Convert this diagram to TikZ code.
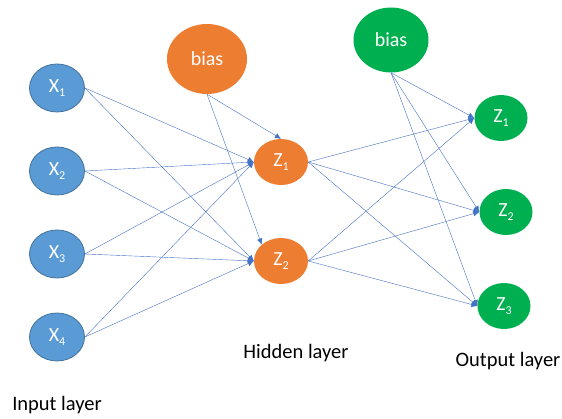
\documentclass[tikz,border=0pt]{standalone}
\usepackage{fontspec}
\setmainfont{Carlito}
\usetikzlibrary{arrows.meta,shapes.geometric}
\definecolor{inblue}{HTML}{5B9BD5}
\definecolor{inborder}{HTML}{41719C}
\definecolor{hidorange}{HTML}{ED7D31}
\definecolor{outgreen}{HTML}{00B050}
\definecolor{edgeblue}{HTML}{4472C4}
\newcommand{\nsub}[1]{\raisebox{-3.5pt}{\fontsize{12}{12}\selectfont #1}}
\begin{document}
\begin{tikzpicture}[x=1pt,y=-1pt,
  inneuron/.style={draw=inborder, line width=0.8pt, fill=inblue, ellipse, minimum width=55pt, minimum height=48pt, inner sep=0pt, text=white, font=\fontsize{20}{20}\selectfont},
  hidneuron/.style={fill=hidorange, ellipse, minimum width=54pt, minimum height=46pt, inner sep=0pt, text=white, font=\fontsize{20}{20}\selectfont},
  outneuron/.style={fill=outgreen, ellipse, minimum width=53pt, minimum height=46pt, inner sep=0pt, text=white, font=\fontsize{20}{20}\selectfont},
  conn/.style={draw=edgeblue, line width=0.4pt, -{Latex[length=6pt,width=5.5pt]}},
  layerlabel/.style={font=\fontsize{20.5}{20.5}\selectfont, text=black}
]
\useasboundingbox (0,0) rectangle (562,419);
\node[inneuron] (x1) at (57,88) {X\nsub{1}};
\node[inneuron] (x2) at (57,171) {X\nsub{2}};
\node[inneuron] (x3) at (57,254) {X\nsub{3}};
\node[inneuron] (x4) at (57,337) {X\nsub{4}};
\node[hidneuron, minimum width=80pt, minimum height=70pt] (hb) at (207,59) {bias};
\node[hidneuron] (h1) at (281,162) {Z\nsub{1}};
\node[hidneuron] (h2) at (281,261) {Z\nsub{2}};
\node[outneuron, minimum width=75pt, minimum height=65pt] (ob) at (391,40) {bias};
\node[outneuron] (o1) at (501,118) {Z\nsub{1}};
\node[outneuron] (o2) at (506,212) {Z\nsub{2}};
\node[outneuron] (o3) at (504,306) {Z\nsub{3}};
\foreach \i in {1,2,3,4}{
  \draw[conn] (x\i.east) -- (h1.west);
  \draw[conn] (x\i.east) -- (h2.west);
}
\draw[conn] (hb.south) -- (h1.north);
\draw[conn] (hb.south) -- (h2.north west);
\foreach \j in {1,2,3}{
  \draw[conn] (h1.east) -- (o\j.west);
  \draw[conn] (h2.east) -- (o\j.west);
  \draw[conn] (ob.south) -- (o\j.west);
}
\node[layerlabel] (lin) at (57,405) {Input layer};
\node[layerlabel] (lhid) at (296,353) {Hidden layer};
\node[layerlabel] (lout) at (508,361) {Output layer};
\end{tikzpicture}
\end{document}
